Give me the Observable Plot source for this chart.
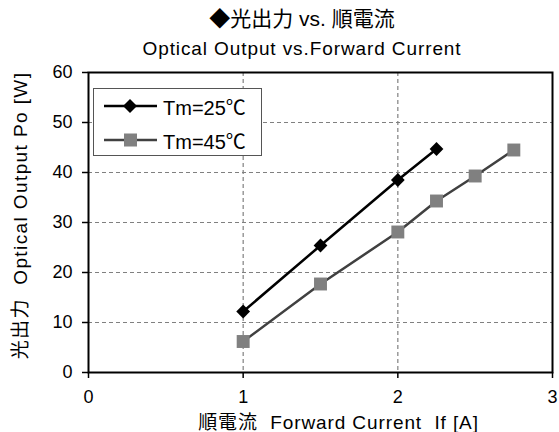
<!DOCTYPE html>
<html><head><meta charset="utf-8">
<script src="https://cdn.jsdelivr.net/npm/d3@7"></script>
<script src="https://cdn.jsdelivr.net/npm/@observablehq/plot@0.6"></script>
<style>
body{margin:0;background:#fff;font-family:"Liberation Sans","Noto Sans CJK JP",sans-serif;color:#000;}
#wrap{position:relative;width:559px;height:432px;overflow:hidden;}
.title{position:absolute;left:0;width:604px;text-align:center;white-space:nowrap;}
#t1{top:6px;font-size:21px;line-height:26px;}
#t2{top:38px;font-size:19px;line-height:22px;letter-spacing:0.9px;}
#chart{position:absolute;left:0;top:60px;}
#legend{position:absolute;left:93px;top:88px;width:169px;height:68px;border:1px solid #555;background:#fff;box-sizing:border-box;}
.row{position:absolute;left:10px;height:24px;display:flex;align-items:center;font-size:20px;}
.row svg{margin-right:5px;}
</style></head>
<body>
<div id="wrap">
  <div class="title" id="t1"></div>
  <div class="title" id="t2"></div>
  <div id="chart"></div>
  <div id="legend"></div>
</div>
<script>
const titleLine1 = "◆光出力 vs. 順電流";
const titleLine2 = "Optical Output vs.Forward Current";
const xLabel = "順電流  Forward Current  If [A]";
const yLabel = "光出力  Optical Output Po [W]";
const seriesNames = ["Tm=25℃", "Tm=45℃"];
const current25 = [1, 1.5, 2, 2.25];
const power25 = [12.2, 25.4, 38.5, 44.7];
const current45 = [1, 1.5, 2, 2.25, 2.5, 2.75];
const power45 = [6.2, 17.7, 28.1, 34.3, 39.3, 44.5];
const xTicks = [0, 1, 2, 3];
const yTicks = [0, 10, 20, 30, 40, 50, 60];
const xGrid = [1, 2];
const yGrid = [10, 20, 30, 40, 50];

document.getElementById("t1").textContent = titleLine1;
document.getElementById("t2").textContent = titleLine2;

const s25 = current25.map((c, i) => ({current: c, power: power25[i], series: seriesNames[0]}));
const s45 = current45.map((c, i) => ({current: c, power: power45[i], series: seriesNames[1]}));

const lineColor45 = "#404040", markColor45 = "#808080";

const chart = Plot.plot({
  width: 559,
  height: 372,
  marginLeft: 88,
  marginRight: 7,
  marginTop: 12,
  marginBottom: 60,
  style: {fontFamily: '"Liberation Sans","Noto Sans CJK JP",sans-serif', fontSize: "18px", color: "#000", background: "#fff", overflow: "visible"},
  x: {domain: [0, 3]},
  y: {domain: [0, 60]},
  marks: [
    Plot.ruleY(yGrid, {stroke: "#808080", strokeDasharray: "4,3", strokeWidth: 1.2}),
    Plot.ruleX(xGrid, {stroke: "#808080", strokeDasharray: "4,3", strokeWidth: 1.2}),
    Plot.axisY({ticks: yTicks, tickSize: 6, tickPadding: 10, tickFormat: d3.format("d"), label: null, fontSize: 18, strokeWidth: 1.5}),
    Plot.axisX({ticks: xTicks, tickSize: 6, tickPadding: 12, tickFormat: d3.format("d"), label: null, fontSize: 18, strokeWidth: 1.5}),
    Plot.frame({stroke: "#000", strokeWidth: 2}),
    Plot.line(s45, {x: "current", y: "power", stroke: lineColor45, strokeWidth: 2.5}),
    Plot.dot(s45, {x: "current", y: "power", symbol: "square", r: 7.3, fill: markColor45, stroke: "none"}),
    Plot.line(s25, {x: "current", y: "power", stroke: "#000", strokeWidth: 2.5}),
    Plot.dot(s25, {x: "current", y: "power", symbol: "diamond2", r: 6.2, fill: "#000", stroke: "none"}),
    Plot.text([xLabel], {frameAnchor: "bottom", textAnchor: "middle", lineAnchor: "middle", dy: 50, dx: 18, text: d => d, fontSize: 19, fill: "#000"}),
    Plot.text([yLabel], {frameAnchor: "left", textAnchor: "middle", lineAnchor: "middle", dx: -68, dy: -7, rotate: -90, text: d => d, fontSize: 19, fill: "#000"})
  ]
});
d3.select(chart).selectAll("text").filter(function() { return this.textContent === xLabel; }).attr("letter-spacing", "0.9px");
d3.select(chart).selectAll("text").filter(function() { return this.textContent === yLabel; }).attr("letter-spacing", "1.4px");
document.getElementById("chart").appendChild(chart);

const legend = document.getElementById("legend");
const rows = [
  {name: seriesNames[0], line: "#000", mark: '<path d="M26,-7 L33,0 L26,7 L19,0 Z" fill="#000"/>'},
  {name: seriesNames[1], line: lineColor45, mark: '<rect x="20" y="-6.5" width="13" height="13" fill="' + markColor45 + '"/>'}
];
rows.forEach((r, i) => {
  const div = document.createElement("div");
  div.className = "row";
  div.style.top = (i === 0 ? 5 : 39) + "px";
  div.innerHTML = '<svg width="54" height="24" viewBox="0 -12 54 24"><line x1="0" y1="0" x2="53" y2="0" stroke="' + r.line + '" stroke-width="2.5"/>' + r.mark + '</svg><span>' + r.name + '</span>';
  legend.appendChild(div);
});
</script>
</body></html>
